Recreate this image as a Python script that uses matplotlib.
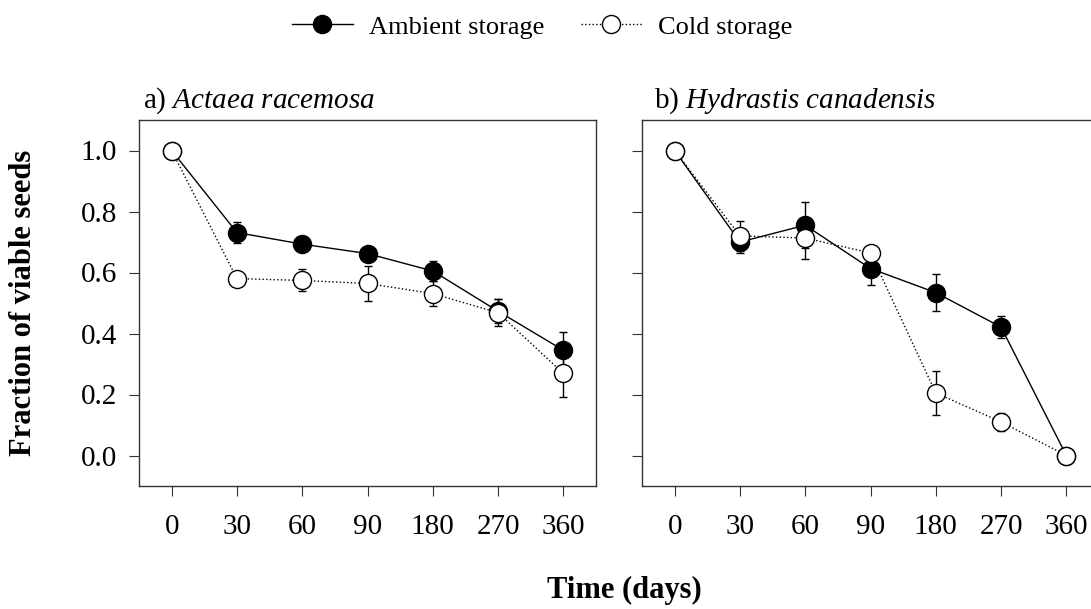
"""Seed viability over storage time for two medicinal forest herbs."""

import matplotlib

matplotlib.use("Agg")
import matplotlib.pyplot as plt
from matplotlib.lines import Line2D

plt.rcParams["font.family"] = ["Liberation Serif", "DejaVu Serif"]
plt.rcParams["mathtext.fontset"] = "custom"
plt.rcParams["mathtext.rm"] = "Liberation Serif"
plt.rcParams["mathtext.it"] = "Liberation Serif:italic"

days = ["0", "30", "60", "90", "180", "270", "360"]

# a) Actaea racemosa
actaea_ambient = [1.0, 0.731, 0.693, 0.662, 0.605, 0.473, 0.345]
actaea_ambient_se = [0.0, 0.033, 0.015, 0.02, 0.034, 0.04, 0.059]
actaea_cold = [1.0, 0.580, 0.574, 0.564, 0.531, 0.468, 0.269]
actaea_cold_se = [0.0, 0.015, 0.036, 0.058, 0.042, 0.044, 0.078]

# b) Hydrastis canadensis
hydrastis_ambient = [1.0, 0.700, 0.755, 0.613, 0.534, 0.421, 0.0]
hydrastis_ambient_se = [0.0, 0.036, 0.075, 0.055, 0.06, 0.036, 0.0]
hydrastis_cold = [1.0, 0.720, 0.713, 0.664, 0.205, 0.110, 0.0]
hydrastis_cold_se = [0.0, 0.05, 0.068, 0.02, 0.072, 0.03, 0.0]

panels = [
    (r"a) $\it{Actaea\ racemosa}$", actaea_ambient, actaea_ambient_se, actaea_cold, actaea_cold_se),
    (r"b) $\it{Hydrastis\ canadensis}$", hydrastis_ambient, hydrastis_ambient_se, hydrastis_cold, hydrastis_cold_se),
]

W, H = 1091, 609
fig = plt.figure(figsize=(W / 100, H / 100), dpi=100)
lefts = [139, 642]
x = list(range(len(days)))

for left, (title, amb, amb_se, cold, cold_se) in zip(lefts, panels):
    ax = fig.add_axes([left / W, (H - 486) / H, 457 / W, 366 / H])
    ax.errorbar(x, amb, yerr=amb_se, color="black", linestyle="-", linewidth=1.0,
                marker="o", markersize=13, markerfacecolor="black", markeredgecolor="black",
                elinewidth=1.0, capsize=3, capthick=1.0, zorder=2)
    ax.errorbar(x, cold, yerr=cold_se, color="black", linestyle=":", linewidth=1.0,
                marker="o", markersize=13, markerfacecolor="white", markeredgecolor="black",
                markeredgewidth=1.0, elinewidth=1.0, capsize=3, capthick=1.0, zorder=3)
    ax.set_xlim(-0.5, 6.5)
    ax.set_ylim(-0.1, 1.1)
    ax.set_xticks(x)
    ax.set_xticklabels(days)
    ax.set_yticks([0.0, 0.2, 0.4, 0.6, 0.8, 1.0])
    if left == lefts[0]:
        ax.set_yticklabels(["0.0", "0.2", "0.4", "0.6", "0.8", "1.0"])
    else:
        ax.set_yticklabels([])
    ax.tick_params(direction="out", length=7, width=0.8, labelsize=21, color="#333333")
    ax.tick_params(axis="y", pad=9)
    ax.tick_params(axis="x", pad=13)
    for spine in ax.spines.values():
        spine.set_linewidth(1.0)
        spine.set_color("#333333")
    ax.text(0.008 if left == lefts[0] else 0.026, 1.033, title, transform=ax.transAxes,
            fontsize=21, ha="left", va="baseline")

fig.text(24 / W, 1 - 303 / H, "Fraction of viable seeds", rotation=90,
         ha="center", va="center", fontsize=22, fontweight="bold")
fig.text(624 / W, 1 - 590 / H, "Time (days)", ha="center", va="center",
         fontsize=22, fontweight="bold")

handles = [
    Line2D([], [], color="black", linestyle="-", linewidth=1.0, marker="o",
           markersize=13, markerfacecolor="black"),
    Line2D([], [], color="black", linestyle=":", linewidth=1.0, marker="o",
           markersize=13, markerfacecolor="white"),
]
fig.legend(handles, ["Ambient storage", "Cold storage"], loc="center",
           bbox_to_anchor=(542 / W, 1 - 27 / H), ncol=2, frameon=False,
           fontsize=19, handlelength=2.3, columnspacing=1.4, handletextpad=0.6)

fig.savefig("out.png", dpi=100)
